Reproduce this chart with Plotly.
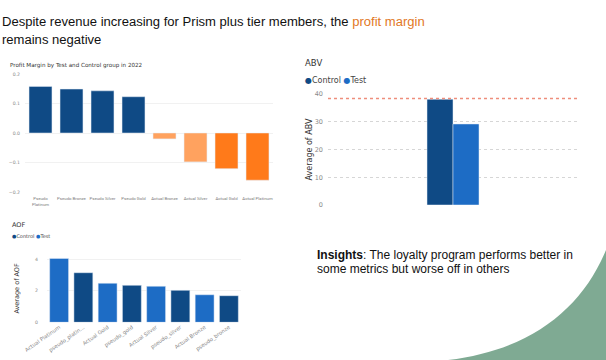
import plotly.graph_objects as go

# ---- data ----
pm_categories = ["Pseudo Platinum", "Pseudo Bronze", "Pseudo Silver", "Pseudo Gold",
                 "Actual Bronze", "Actual Silver", "Actual Gold", "Actual Platinum"]
pm_labels = ["Pseudo<br>Platinum", "Pseudo Bronze", "Pseudo Silver", "Pseudo Gold",
             "Actual Bronze", "Actual Silver", "Actual Gold", "Actual Platinum"]
pm_values = [0.158, 0.149, 0.143, 0.123, -0.020, -0.098, -0.121, -0.160]
pm_ticks = [-0.2, -0.1, 0.0, 0.1, 0.2]

abv_groups = ["Control", "Test"]
abv_values = [38.1, 29.2]
abv_reference = 38.4
abv_ticks = [0, 10, 20, 30, 40]

aof_categories = ["Actual Platinum", "pseudo_platinum", "Actual Gold", "pseudo_gold",
                  "Actual Silver", "pseudo_silver", "Actual Bronze", "pseudo_bronze"]
aof_labels = ["Actual Platinum", "pseudo_platin...", "Actual Gold", "pseudo_gold",
              "Actual Silver", "pseudo_silver", "Actual Bronze", "pseudo_bronze"]
aof_groups = ["Test", "Control", "Test", "Control", "Test", "Control", "Test", "Control"]
aof_values = [4.06, 3.15, 2.48, 2.35, 2.29, 2.03, 1.75, 1.69]
aof_ticks = [0, 2, 4]

# ---- style ----
W, H = 606, 360
C_CONTROL = "#0F4A85"
C_TEST = "#1D6CC5"
C_PSEUDO = "#0F4A85"
C_ORANGE_LIGHT = "#FFA25F"
C_ORANGE = "#FF7A1A"
pm_colors = [C_PSEUDO] * 4 + [C_ORANGE_LIGHT, C_ORANGE_LIGHT, C_ORANGE, C_ORANGE]
aof_colors = [C_TEST if g == "Test" else C_CONTROL for g in aof_groups]
FONT = "Liberation Sans, Arial, sans-serif"
UI_FONT = "DejaVu Sans, sans-serif"
SMALL_FONT = "Roboto, sans-serif"

def px(x):
    return x / W

def py(y):
    return 1 - y / H

fig = go.Figure()

# Chart 1: profit margin
fig.add_trace(go.Bar(x=pm_categories, y=pm_values, marker_color=pm_colors,
                     width=0.74, xaxis="x", yaxis="y", showlegend=False))

# Chart 2: ABV
fig.add_trace(go.Bar(x=["ABV"], y=[abv_values[0]], name=abv_groups[0], marker_color=C_CONTROL,
                     width=0.104, offset=-0.104, xaxis="x2", yaxis="y2", showlegend=False))
fig.add_trace(go.Bar(x=["ABV"], y=[abv_values[1]], name=abv_groups[1], marker_color=C_TEST,
                     width=0.104, offset=0.0, xaxis="x2", yaxis="y2", showlegend=False))

# Chart 3: AOF
fig.add_trace(go.Bar(x=aof_categories, y=aof_values, marker_color=aof_colors,
                     width=0.78, xaxis="x3", yaxis="y3", showlegend=False))

tick_font = dict(family=UI_FONT, size=4.6, color="#8a8a8a")

fig.update_layout(
    width=W, height=H,
    margin=dict(l=0, r=0, t=0, b=0, autoexpand=False),
    paper_bgcolor="white", plot_bgcolor="rgba(0,0,0,0)",
    barmode="overlay",
    xaxis=dict(domain=[px(25), px(273)], anchor="y", tickmode="array", automargin=False,
               tickvals=pm_categories, ticktext=pm_labels,
               tickfont=dict(family=SMALL_FONT, size=4.3, color="#7a7a7a"), tickangle=0,
               showgrid=False, showline=False, zeroline=False, ticks="",
               ticklabelstandoff=3),
    yaxis=dict(domain=[py(192), py(74)], anchor="x", range=[-0.2, 0.2], automargin=False,
               tickvals=pm_ticks, tickformat=".1f", tickfont=tick_font,
               showgrid=True, gridcolor="#f1f1f1", gridwidth=1, zeroline=False, ticks="",
               ticklabelstandoff=4),
    xaxis2=dict(domain=[px(328), px(578)], anchor="y2", range=[-0.5, 0.5], automargin=False,
                showticklabels=False, showgrid=False, zeroline=False, showline=False),
    yaxis2=dict(domain=[py(205), py(94)], anchor="x2", range=[0, 40], automargin=False,
                tickvals=abv_ticks, tickfont=dict(family=UI_FONT, size=6.5, color="#8a8a8a"),
                showgrid=True, gridcolor="#d6d6d6", griddash="dot", gridwidth=1,
                zeroline=False, ticks="", ticklabelstandoff=4,
                title=dict(text="Average of ABV", font=dict(family=UI_FONT, size=8, color="#333"),
                           standoff=0)),
    xaxis3=dict(domain=[px(47), px(241)], anchor="y3", tickmode="array", automargin=False,
                tickvals=aof_categories, ticktext=aof_labels, tickangle=-35,
                tickfont=dict(family=UI_FONT, size=5.3, color="#8a8a8a"),
                showgrid=False, showline=False, zeroline=False, ticks=""),
    yaxis3=dict(domain=[py(322.3), py(254.6)], anchor="x3", range=[0, 4.3], automargin=False,
                tickvals=aof_ticks, tickfont=tick_font,
                showgrid=True, gridcolor="#f1f1f1", gridwidth=1, zeroline=False, ticks="",
                ticklabelstandoff=8,
                title=dict(text="Average of AOF", font=dict(family=UI_FONT, size=6.5, color="#333"),
                           standoff=14)),
)

# Reference line on ABV chart
fig.add_shape(type="line", xref="x2 domain", yref="y2", x0=0, x1=1,
              y0=abv_reference, y1=abv_reference,
              line=dict(color="#EE8E7C", width=1.5, dash="dot"), layer="above")

# Green decorative corner
p = lambda x, y: f"{px(x):.4f},{py(y):.4f}"
fig.add_shape(type="path", xref="paper", yref="paper",
              path=f"M {p(606, 250)} C {p(582, 308)} {p(532, 350)} {p(448, 360)} L {p(606, 360)} Z",
              fillcolor="#7FAA93", line=dict(width=0), layer="below")

ann = []
ann.append(dict(text="Despite revenue increasing for Prism plus tier members, the "
                     "<span style='color:#E2781F'>profit margin</span>",
                x=px(1), y=py(30), xanchor="left", yanchor="bottom",
                font=dict(family=FONT, size=13.05, color="#111")))
ann.append(dict(text="remains negative", x=px(1), y=py(48.5), xanchor="left", yanchor="bottom",
                font=dict(family=FONT, size=13.05, color="#111")))
ann.append(dict(text="Profit Margin by Test and Control group in 2022", x=px(9), y=py(65),
                xanchor="left", yanchor="middle",
                font=dict(family=UI_FONT, size=5.6, color="#333")))
ann.append(dict(text="ABV", x=px(304), y=py(63), xanchor="left", yanchor="middle",
                font=dict(family=UI_FONT, size=8.5, color="#333")))
ann.append(dict(text=f"<span style='color:{C_CONTROL}'>●</span>Control "
                     f"<span style='color:{C_TEST}'>●</span>Test",
                x=px(304), y=py(80), xanchor="left", yanchor="middle",
                font=dict(family=UI_FONT, size=8, color="#444")))
ann.append(dict(text="AOF", x=px(11), y=py(225), xanchor="left", yanchor="middle",
                font=dict(family=UI_FONT, size=6.5, color="#333")))
ann.append(dict(text=f"<span style='color:{C_CONTROL}'>●</span>Control "
                     f"<span style='color:{C_TEST}'>●</span>Test",
                x=px(11), y=py(235.5), xanchor="left", yanchor="middle",
                font=dict(family=UI_FONT, size=5, color="#444")))
ann.append(dict(text="<b>Insights</b>: The loyalty program performs better in",
                x=px(316), y=py(263), xanchor="left", yanchor="bottom",
                font=dict(family=FONT, size=12, color="#111")))
ann.append(dict(text="some metrics but worse off in others",
                x=px(316), y=py(276.5), xanchor="left", yanchor="bottom",
                font=dict(family=FONT, size=12, color="#111")))
for a in ann:
    a.update(xref="paper", yref="paper", showarrow=False, borderpad=0)
fig.update_layout(annotations=ann)

fig.write_html("out.html",
               config={"displayModeBar": False},
               post_script="document.body.style.margin='0';document.body.style.overflow='hidden';")
